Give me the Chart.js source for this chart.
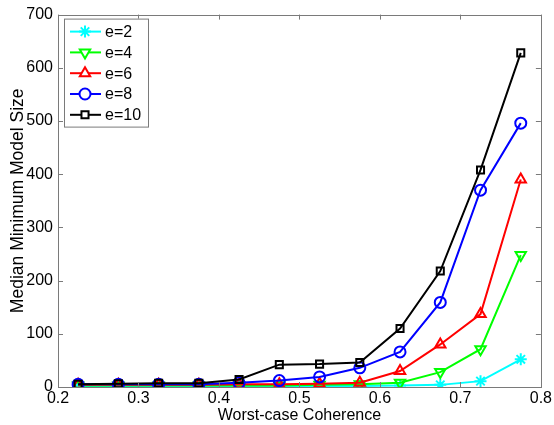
<!DOCTYPE html>
<html>
<head>
<meta charset="utf-8">
<script src="https://cdn.jsdelivr.net/npm/chart.js@4/dist/chart.umd.min.js"></script>
<style>
  html, body { margin: 0; padding: 0; background: #fff; }
  #wrap { width: 554px; height: 425px; }
</style>
</head>
<body>
<div id="wrap"><canvas id="chart"></canvas></div>
<script>
// coherence values (x) and median minimum model size for each e
const coherence = [0.225, 0.275, 0.325, 0.375, 0.425, 0.475, 0.525, 0.575, 0.625, 0.675, 0.725, 0.775];
const e2  = [2, 2, 2, 2, 2, 2, 2, 2, 3, 4, 11, 52];
const e4  = [3, 3, 3, 3, 3, 3, 4, 5, 8, 28, 71, 248];
const e6  = [4, 4, 4, 4, 5, 5, 6, 8, 30, 80, 137, 390];
const e8  = [5, 5, 5, 5, 8, 12, 19, 36, 66, 159, 370, 496];
const e10 = [5, 6, 7, 7, 14, 42, 43, 46, 110, 218, 408, 628];

const seriesNames = ['e=2', 'e=4', 'e=6', 'e=8', 'e=10'];
const seriesValues = [e2, e4, e6, e8, e10];
const seriesColors = ['#00ffff', '#00ff00', '#ff0000', '#0000ff', '#000000'];
const seriesMarkers = ['star', 'triangle', 'triangle', 'circle', 'rect'];
const markerRotation = [0, 180, 0, 0, 0];
const markerRadius = [6, 6, 6, 5.5, 5];

const xTicks = { min: 0.2, max: 0.8, step: 0.1 };
const yTicks = { min: 0, max: 700, step: 100 };

const FONT = 'Liberation Sans, Arial, Helvetica, sans-serif';

const datasets = seriesNames.map((name, i) => ({
    label: name,
    data: coherence.map((x, j) => ({ x: x, y: seriesValues[i][j] })),
    borderColor: seriesColors[i],
    backgroundColor: 'rgba(0,0,0,0)',
    borderWidth: 2,
    pointStyle: seriesMarkers[i],
    pointRotation: markerRotation[i],
    pointRadius: markerRadius[i],
    pointBorderWidth: 2,
    pointBorderColor: seriesColors[i],
    pointBackgroundColor: 'rgba(0,0,0,0)',
    tension: 0,
    order: seriesNames.length - i
}));

// box around the plot with inward tick marks, matlab style
const boxTicks = {
    id: 'boxTicks',
    afterDraw(chart) {
        const ctx = chart.ctx;
        const a = chart.chartArea;
        const xs = chart.scales.x, ys = chart.scales.y;
        const len = 5;
        ctx.save();
        ctx.strokeStyle = '#7a7a7a';
        ctx.lineWidth = 1;
        ctx.beginPath();
        xs.ticks.forEach(t => {
            const px = Math.round(xs.getPixelForValue(t.value)) + 0.5;
            ctx.moveTo(px, a.bottom); ctx.lineTo(px, a.bottom - len);
            ctx.moveTo(px, a.top); ctx.lineTo(px, a.top + len);
        });
        ys.ticks.forEach(t => {
            const py = Math.round(ys.getPixelForValue(t.value)) + 0.5;
            ctx.moveTo(a.left, py); ctx.lineTo(a.left + len, py);
            ctx.moveTo(a.right, py); ctx.lineTo(a.right - len, py);
        });
        ctx.stroke();
        ctx.strokeRect(Math.round(a.left) + 0.5, Math.round(a.top) + 0.5,
            Math.round(a.right - a.left), Math.round(a.bottom - a.top));
        ctx.restore();
    }
};

// legend box in the top-left corner with line + marker samples
const insetLegend = {
    id: 'insetLegend',
    afterDraw(chart) {
        const ctx = chart.ctx;
        const a = chart.chartArea;
        const left = a.left + 6, top = a.top + 4;
        const w = 84, h = 108, rowH = 20.8;
        ctx.save();
        ctx.fillStyle = '#fff';
        ctx.fillRect(left, top, w, h);
        ctx.strokeStyle = '#7a7a7a';
        ctx.lineWidth = 1;
        ctx.strokeRect(left + 0.5, top + 0.5, w, h);
        ctx.font = '16px ' + FONT;
        ctx.textBaseline = 'middle';
        ctx.textAlign = 'left';
        chart.data.datasets.forEach((ds, i) => {
            const y = top + 13 + i * rowH;
            ctx.strokeStyle = ds.borderColor;
            ctx.lineWidth = 2;
            ctx.beginPath();
            ctx.moveTo(left + 6, y);
            ctx.lineTo(left + 37, y);
            ctx.stroke();
            ctx.fillStyle = '#fff';
            Chart.helpers.drawPoint(ctx, {
                pointStyle: ds.pointStyle,
                rotation: ds.pointRotation,
                radius: ds.pointRadius,
                borderWidth: 2
            }, left + 21, y);
            ctx.fillStyle = '#000';
            ctx.fillText(ds.label, left + 41, y + 1);
        });
        ctx.restore();
    }
};

new Chart(document.getElementById('chart'), {
    type: 'line',
    data: { datasets: datasets },
    options: {
        responsive: true,
        maintainAspectRatio: false,
        animation: false,
        layout: { padding: { top: 11, right: 11, left: 0, bottom: 0 } },
        plugins: {
            legend: { display: false },
            tooltip: { enabled: false }
        },
        scales: {
            x: {
                type: 'linear',
                min: xTicks.min,
                max: xTicks.max,
                grid: { display: false, drawTicks: false },
                border: { display: false },
                ticks: {
                    stepSize: xTicks.step,
                    color: '#000',
                    font: { family: FONT, size: 16 },
                    padding: 2,
                    maxRotation: 0,
                    callback: v => v.toFixed(1)
                },
                title: {
                    display: true,
                    text: 'Worst-case Coherence',
                    color: '#000',
                    font: { family: FONT, size: 16 },
                    padding: { top: 0, bottom: 0 }
                },
                afterFit: s => { s.height = 38; }
            },
            y: {
                min: yTicks.min,
                max: yTicks.max,
                grid: { display: false, drawTicks: false },
                border: { display: false },
                ticks: {
                    stepSize: yTicks.step,
                    color: '#000',
                    font: { family: FONT, size: 16 },
                    padding: 5
                },
                title: {
                    display: true,
                    text: 'Median Minimum Model Size',
                    color: '#000',
                    font: { family: FONT, size: 17.5 },
                    padding: { top: 8, bottom: 0 }
                },
                afterFit: s => { s.width = 58; }
            }
        }
    },
    plugins: [boxTicks, insetLegend]
});
</script>
</body>
</html>
